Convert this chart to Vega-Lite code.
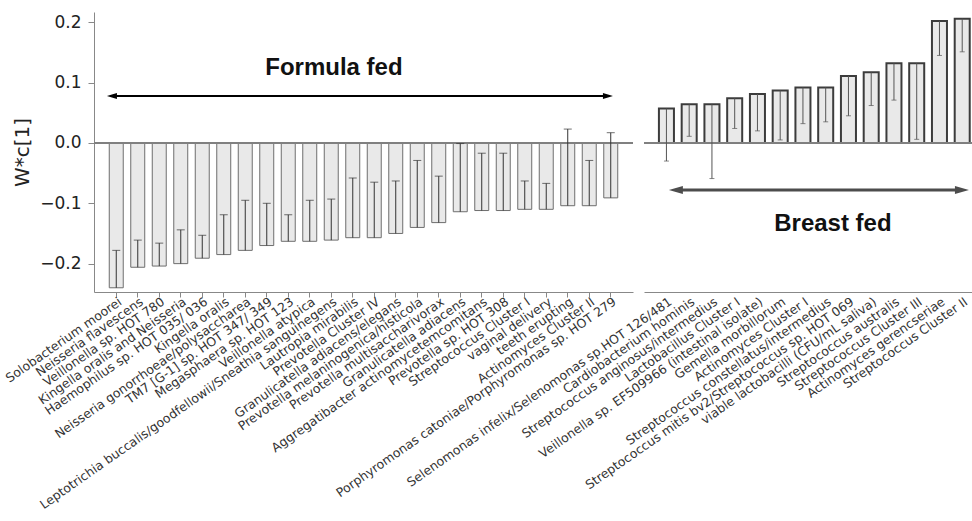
{
  "$schema": "https://vega.github.io/schema/vega-lite/v6.json",
  "background": "white",
  "padding": {"left": 3, "top": 12, "right": 0, "bottom": 0},
  "spacing": 11,
  "bounds": "flush",
  "config": {
    "view": {"stroke": null},
    "axis": {"domainColor": "#888888", "tickColor": "#888888", "labelColor": "#222222", "titleColor": "#222222", "grid": false}
  },
  "datasets": {
    "taxa": [
      {"group": "Formula fed", "taxon": "Solobacterium moorei", "w": -0.240, "ci": -0.178},
      {"group": "Formula fed", "taxon": "Neisseria flavescens", "w": -0.206, "ci": -0.161},
      {"group": "Formula fed", "taxon": "Veillonella sp. HOT 780", "w": -0.204, "ci": -0.166},
      {"group": "Formula fed", "taxon": "Kingella oralis and Neisseria", "w": -0.200, "ci": -0.144},
      {"group": "Formula fed", "taxon": "Haemophilus sp. HOT 035/ 036", "w": -0.191, "ci": -0.153},
      {"group": "Formula fed", "taxon": "Kingella oralis", "w": -0.185, "ci": -0.119},
      {"group": "Formula fed", "taxon": "Neisseria gonorrhoeae/polysaccharea", "w": -0.178, "ci": -0.095},
      {"group": "Formula fed", "taxon": "TM7 [G-1] sp. HOT 347/ 349", "w": -0.170, "ci": -0.100},
      {"group": "Formula fed", "taxon": "Megasphaera sp. HOT 123", "w": -0.163, "ci": -0.119},
      {"group": "Formula fed", "taxon": "Veillonella atypica", "w": -0.163, "ci": -0.095},
      {"group": "Formula fed", "taxon": "Leptotrichia buccalis/goodfellowii/Sneathia sanguinegens", "w": -0.161, "ci": -0.093},
      {"group": "Formula fed", "taxon": "Lautropia mirabilis", "w": -0.157, "ci": -0.058},
      {"group": "Formula fed", "taxon": "Prevotella Cluster IV", "w": -0.157, "ci": -0.065},
      {"group": "Formula fed", "taxon": "Granulicatella adiacens/elegans", "w": -0.150, "ci": -0.063},
      {"group": "Formula fed", "taxon": "Prevotella melaninogenica/histicola", "w": -0.140, "ci": -0.029},
      {"group": "Formula fed", "taxon": "Prevotella multisaccharivorax", "w": -0.132, "ci": -0.055},
      {"group": "Formula fed", "taxon": "Granulicatella adiacens", "w": -0.114, "ci": -0.001},
      {"group": "Formula fed", "taxon": "Aggregatibacter actinomycetemcomitans", "w": -0.112, "ci": -0.017},
      {"group": "Formula fed", "taxon": "Prevotella sp. HOT 308", "w": -0.112, "ci": -0.017},
      {"group": "Formula fed", "taxon": "Streptococcus Cluster I", "w": -0.110, "ci": -0.063},
      {"group": "Formula fed", "taxon": "vaginal delivery", "w": -0.110, "ci": -0.067},
      {"group": "Formula fed", "taxon": "teeth erupting", "w": -0.104, "ci": 0.023},
      {"group": "Formula fed", "taxon": "Actinomyces Cluster II", "w": -0.104, "ci": -0.029},
      {"group": "Formula fed", "taxon": "Porphyromonas catoniae/Porphyromonas sp. HOT 279", "w": -0.091, "ci": 0.017},
      {"group": "Breast fed", "taxon": "Selenomonas infelix/Selenomonas sp.HOT 126/481", "w": 0.057, "ci": -0.030},
      {"group": "Breast fed", "taxon": "Cardiobacterium hominis", "w": 0.064, "ci": 0.011},
      {"group": "Breast fed", "taxon": "Streptococcus anginosus/intermedius", "w": 0.064, "ci": -0.059},
      {"group": "Breast fed", "taxon": "Lactobacillus Cluster I", "w": 0.074, "ci": 0.024},
      {"group": "Breast fed", "taxon": "Veillonella sp. EF509966 (intestinal isolate)", "w": 0.081, "ci": 0.020},
      {"group": "Breast fed", "taxon": "Gemella morbillorum", "w": 0.087, "ci": 0.005},
      {"group": "Breast fed", "taxon": "Actinomyces Cluster I", "w": 0.092, "ci": 0.032},
      {"group": "Breast fed", "taxon": "Streptococcus constellatus/intermedius", "w": 0.092, "ci": 0.035},
      {"group": "Breast fed", "taxon": "Streptococcus mitis bv2/Streptococcus sp. HOT 069", "w": 0.111, "ci": 0.045},
      {"group": "Breast fed", "taxon": "viable lactobacilli (CFU/mL saliva)", "w": 0.117, "ci": 0.062},
      {"group": "Breast fed", "taxon": "Streptococcus australis", "w": 0.132, "ci": 0.071},
      {"group": "Breast fed", "taxon": "Streptococcus Cluster III", "w": 0.132, "ci": 0.006},
      {"group": "Breast fed", "taxon": "Actinomyces gerencseriae", "w": 0.202, "ci": 0.145},
      {"group": "Breast fed", "taxon": "Streptococcus Cluster II", "w": 0.206, "ci": 0.151}
    ],
    "notes": [
      {"group": "Formula fed", "label": "Formula fed", "from": "Solobacterium moorei", "to": "Porphyromonas catoniae/Porphyromonas sp. HOT 279", "at": "Leptotrichia buccalis/goodfellowii/Sneathia sanguinegens", "arrow": 0.078, "text": 0.124},
      {"group": "Breast fed", "label": "Breast fed", "from": "Selenomonas infelix/Selenomonas sp.HOT 126/481", "to": "Streptococcus Cluster II", "at": "Streptococcus constellatus/intermedius", "arrow": -0.078, "text": -0.134}
    ]
  },
  "hconcat": [
    {
      "width": 539,
      "height": 280,
      "data": {"name": "taxa"},
      "transform": [{"filter": "datum.group === 'Formula fed'"}],
      "layer": [
        {
          "mark": {"type": "bar", "fill": "#e9e9e9", "stroke": "#6e6e6e", "strokeWidth": 1},
          "encoding": {
            "x": {
              "field": "taxon", "type": "nominal", "sort": null,
              "scale": {"paddingInner": 0.35, "paddingOuter": 0.71},
              "axis": {"title": null, "labelAngle": -35, "labelAlign": "right", "labelBaseline": "middle", "labelFont": "DejaVu Sans", "labelFontSize": 12.5, "labelPadding": 3, "labelOffset": 4, "tickSize": 5, "labelLimit": 700, "labelOverlap": false, "labelColor": "#333333"}
            },
            "y": {
              "field": "w", "type": "quantitative",
              "scale": {"domain": [-0.247, 0.217], "nice": false, "zero": false},
              "axis": {"title": "W*c[1]", "values": [-0.2, -0.1, 0, 0.1, 0.2], "format": ".1f", "labelFont": "DejaVu Sans", "labelFontSize": 17, "tickSize": 6, "labelPadding": 7, "titleFont": "DejaVu Sans", "titleFontSize": 20, "titleFontWeight": "normal", "titlePadding": 7}
            }
          }
        },
        {
          "mark": {"type": "rule", "color": "#808080", "strokeWidth": 1},
          "encoding": {"y": {"datum": 0}}
        },
        {
          "mark": {"type": "rule", "color": "#333333", "strokeWidth": 1},
          "encoding": {
            "x": {"field": "taxon", "type": "nominal", "sort": null},
            "y": {"field": "w", "type": "quantitative"},
            "y2": {"field": "ci"}
          }
        },
        {
          "mark": {"type": "tick", "color": "#333333", "size": 8, "thickness": 1},
          "encoding": {
            "x": {"field": "taxon", "type": "nominal", "sort": null},
            "y": {"field": "ci", "type": "quantitative"}
          }
        },
        {
          "data": {"name": "notes"},
          "transform": [{"filter": "datum.group === 'Formula fed'"}],
          "layer": [
            {
              "mark": {"type": "rule", "color": "#000000", "strokeWidth": 2},
              "encoding": {
                "x": {"field": "from", "type": "nominal", "sort": null, "bandPosition": 0.19},
                "x2": {"field": "to", "bandPosition": 0.3},
                "y": {"field": "arrow", "type": "quantitative"}
              }
            },
            {
              "mark": {"type": "point", "shape": "M-1,0L1,-0.6L1,0.6Z", "size": 100, "filled": true, "color": "#000000", "opacity": 1},
              "encoding": {
                "x": {"field": "from", "type": "nominal", "sort": null, "bandPosition": 0.19},
                "y": {"field": "arrow", "type": "quantitative"}
              }
            },
            {
              "mark": {"type": "point", "shape": "M1,0L-1,-0.6L-1,0.6Z", "size": 100, "filled": true, "color": "#000000", "opacity": 1},
              "encoding": {
                "x": {"field": "to", "type": "nominal", "sort": null, "bandPosition": 0.3},
                "y": {"field": "arrow", "type": "quantitative"}
              }
            },
            {
              "mark": {"type": "text", "font": "Liberation Sans", "fontWeight": "bold", "fontSize": 24, "align": "center", "baseline": "middle", "color": "#111111"},
              "encoding": {
                "x": {"field": "at", "type": "nominal", "sort": null, "bandPosition": 0.69},
                "y": {"field": "text", "type": "quantitative"},
                "text": {"field": "label"}
              }
            }
          ]
        }
      ]
    },
    {
      "width": 329,
      "height": 280,
      "data": {"name": "taxa"},
      "transform": [{"filter": "datum.group === 'Breast fed'"}],
      "layer": [
        {
          "mark": {"type": "bar", "fill": "#e9e9e9", "stroke": "#3c3c3c", "strokeWidth": 2},
          "encoding": {
            "x": {
              "field": "taxon", "type": "nominal", "sort": null,
              "scale": {"paddingInner": 0.34, "paddingOuter": 0.40, "align": 0.82},
              "axis": {"title": null, "labelAngle": -35, "labelAlign": "right", "labelBaseline": "middle", "labelFont": "DejaVu Sans", "labelFontSize": 12.5, "labelPadding": 8, "labelOffset": 4, "ticks": false, "labelLimit": 700, "labelOverlap": false, "labelColor": "#333333"}
            },
            "y": {
              "field": "w", "type": "quantitative",
              "scale": {"domain": [-0.247, 0.217], "nice": false, "zero": false},
              "axis": null
            }
          }
        },
        {
          "mark": {"type": "rule", "color": "#808080", "strokeWidth": 1},
          "encoding": {"y": {"datum": 0}}
        },
        {
          "mark": {"type": "rule", "color": "#555555", "strokeWidth": 1},
          "encoding": {
            "x": {"field": "taxon", "type": "nominal", "sort": null},
            "y": {"field": "w", "type": "quantitative"},
            "y2": {"field": "ci"}
          }
        },
        {
          "mark": {"type": "tick", "color": "#555555", "size": 5, "thickness": 1},
          "encoding": {
            "x": {"field": "taxon", "type": "nominal", "sort": null},
            "y": {"field": "ci", "type": "quantitative"}
          }
        },
        {
          "data": {"name": "notes"},
          "transform": [{"filter": "datum.group === 'Breast fed'"}],
          "layer": [
            {
              "mark": {"type": "rule", "color": "#4d4d4d", "strokeWidth": 3},
              "encoding": {
                "x": {"field": "from", "type": "nominal", "sort": null, "bandPosition": 1.13},
                "x2": {"field": "to", "bandPosition": 0.48},
                "y": {"field": "arrow", "type": "quantitative"}
              }
            },
            {
              "mark": {"type": "point", "shape": "M-1,0L1,-0.57L1,0.57Z", "size": 196, "filled": true, "color": "#4d4d4d", "opacity": 1},
              "encoding": {
                "x": {"field": "from", "type": "nominal", "sort": null, "bandPosition": 1.13},
                "y": {"field": "arrow", "type": "quantitative"}
              }
            },
            {
              "mark": {"type": "point", "shape": "M1,0L-1,-0.57L-1,0.57Z", "size": 196, "filled": true, "color": "#4d4d4d", "opacity": 1},
              "encoding": {
                "x": {"field": "to", "type": "nominal", "sort": null, "bandPosition": 0.48},
                "y": {"field": "arrow", "type": "quantitative"}
              }
            },
            {
              "mark": {"type": "text", "font": "Liberation Sans", "fontWeight": "bold", "fontSize": 24, "align": "center", "baseline": "middle", "color": "#111111"},
              "encoding": {
                "x": {"field": "at", "type": "nominal", "sort": null, "bandPosition": 0.98},
                "y": {"field": "text", "type": "quantitative"},
                "text": {"field": "label"}
              }
            }
          ]
        }
      ]
    }
  ]
}
